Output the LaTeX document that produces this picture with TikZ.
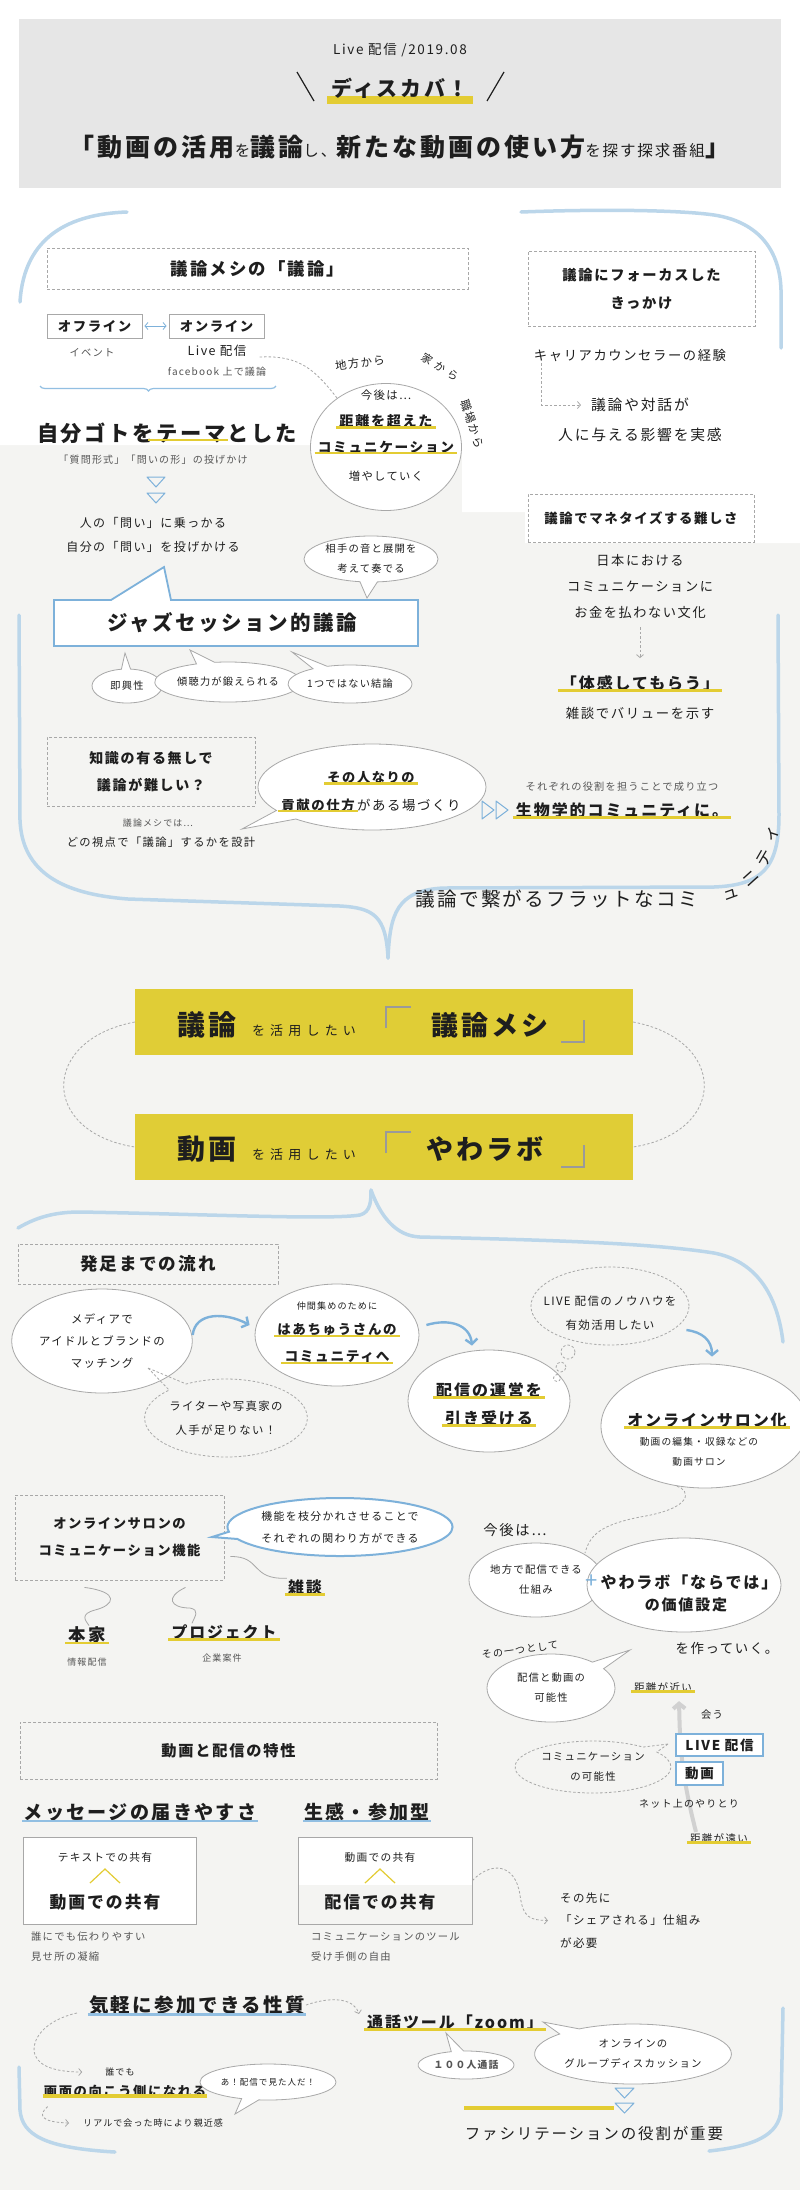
\documentclass[tikz,border=0pt]{standalone}
\usepackage{fontspec}
\setmainfont{Noto Sans CJK JP}[LetterSpace=12]
\usetikzlibrary{arrows.meta,positioning,shapes.geometric,shapes.callouts,decorations.pathreplacing}
\definecolor{pagegray}{HTML}{F4F4F2}
\definecolor{headgray}{HTML}{E6E6E6}
\definecolor{hlyellow}{HTML}{E3CC33}
\definecolor{boxyellow}{HTML}{E0CD36}
\definecolor{paleblue}{HTML}{BBD6EA}
\definecolor{midblue}{HTML}{7DB1DA}
\definecolor{skyline}{HTML}{92BFE2}
\definecolor{linegray}{HTML}{A8A8A8}
\definecolor{cornergray}{HTML}{9A9A9A}
\definecolor{ink}{HTML}{1E1E1E}
\definecolor{subink}{HTML}{555555}
\newcommand{\smtxt}[1]{{\mdseries\fontsize{15.5}{16}\selectfont #1}}
\newcommand{\wide}{\addfontfeature{LetterSpace=40}}
\begin{document}
\begin{tikzpicture}[x=1pt, y=-1pt, >=Latex,
  every node/.style={inner sep=1pt, text=ink, align=center},
  tx/.style 2 args={font=\fontsize{#1}{#2}\selectfont},
  tb/.style 2 args={font=\fontsize{#1}{#2}\selectfont\bfseries},
  sub/.style={text=subink},
  dbox/.style={draw=linegray, line width=0.8pt, dash pattern=on 3pt off 2pt},
  sbox/.style={draw=linegray, fill=white, line width=0.9pt},
  bbox/.style={draw=midblue, fill=white, line width=1.8pt},
  bubble/.style={draw=linegray, fill=white, line width=0.8pt},
  dashline/.style={draw=linegray, line width=0.8pt, dash pattern=on 2.5pt off 2pt},
  dasharrow/.style={dashline, -{Straight Barb[length=3pt,width=7pt]}},
  squig/.style={draw=linegray, line width=0.8pt},
  flow/.style={draw=midblue, line width=2.4pt, -{Straight Barb[length=5pt,width=12pt]}},
  bracket/.style={draw=paleblue, line width=3.5pt, line cap=round},
  tri/.style={draw=midblue, line width=1pt, line join=round},
  hl/.style={draw=hlyellow, line width=2.6pt},
  bl/.style={draw=skyline, line width=2.6pt}]
\useasboundingbox (0,0) rectangle (800,2190);
\fill[pagegray] (0,0) rectangle (800,2190);
\fill[white] (0,0) -- (800,0) -- (800,543) -- (525,543) -- (525,512) -- (462,512) -- (462,445) -- (0,445) -- cycle;
\fill[headgray] (19,19) rectangle (781,188);
\fill[white] (298,1837) rectangle (472,1885);

\node[tx={13.5}{14}] (date) at (400,50) {Live 配信 /2019.08};
\fill[hlyellow] (327,96) rectangle (473,104);
\node[tb={21}{22}] (show) at (400,88) {ディスカバ！};
\draw[ink, line width=1.2pt] (297,72) -- (314,101) (504,72) -- (487,101);
\node[tb={25}{26}] (title) at (400,147) {「動画の活用\smtxt{を}議論\smtxt{し、}新たな動画の使い方\smtxt{を探す探求番組}」};

\draw[bracket] (127,212) .. controls (70,214) and (24,236) .. (20,302);
\draw[bracket] (521,212) .. controls (600,209) and (680,210) .. (714,215) .. controls (760,222) and (780,252) .. (781,290) -- (781,348);
\draw[bracket] (19,615) -- (20,820) .. controls (22,872) and (62,894) .. (128,899) -- (340,906) .. controls (374,908) and (386,916) .. (388,958);
\draw[bracket] (388,958) .. controls (390,915) and (396,890) .. (444,888) -- (714,887) .. controls (762,885) and (779,868) .. (779,815) -- (778,615);

\node[dbox, minimum width=421pt, minimum height=41pt, tb={17.4}{18}] (meshi) at (257.5,268.5) {議論メシの「議論」};
\node[dbox, minimum width=227pt, minimum height=75pt, tb={14.3}{28}] (focus) at (641.5,288.5) {議論にフォーカスした\\きっかけ};
\node[sbox, minimum width=95pt, minimum height=24pt, tb={13.4}{14}] (offline) at (94.5,326) {オフライン};
\node[sbox, minimum width=95pt, minimum height=24pt, tb={13.4}{14}] (online) at (216.5,326) {オンライン};
\draw[midblue, line width=0.8pt, {Straight Barb[length=3pt,width=7pt]}-{Straight Barb[length=3pt,width=7pt]}, shorten <=2pt, shorten >=2pt] (offline) -- (online);
\node[tx={10.3}{11}, sub] (event) at (92,353) {イベント};
\node[tx={12.5}{13}] (live) at (217,351) {Live 配信};
\node[tx={10}{11}, sub] (fb) at (217,372) {facebook 上で議論};
\draw[skyline, line width=1.2pt, decorate, decoration={brace, mirror, amplitude=5pt, aspect=0.46}] (40,386) -- (276,386);

\node[ellipse, bubble, minimum width=151pt, minimum height=127pt, inner sep=0pt] (future) at (386,447) {};
\node[tx={11.4}{12}] (kongo) at (386,395) {今後は…};
\node[tb={14.1}{15}] (kyori) at (386,421) {距離を超えた};
\node[tb={13.7}{14}] (komyu) at (386,447) {コミュニケーション};
\node[tx={11.3}{12}] (fuyasu) at (386,476) {増やしていく};
\node[tx={11.4}{12}, rotate=8] (chiho) at (360,363) {地方から};
\node[tx={11}{11}, inner sep=0pt, rotate=-33] (ie) at (440,367) {\wide 家から};
\node[tx={11.4}{12}, rotate=-72] (shokuba) at (472,424) {職場から};
\draw[dashline] ([xshift=12pt,yshift=-6pt]live.east) .. controls (300,355) and (315,370) .. (future.135);

\node[tb={21.3}{22}] (jibun) at (167,433) {自分ゴトを\textbf{テーマ}とした};
\draw[hl] (148,440) -- (228,440);
\node[tx={10}{11}, sub] (shitsumon) at (153,460) {「質問形式」「問いの形」の投げかけ};
\foreach \y in {482,498} \draw[tri] (147,\y-5) -- (165,\y-5) -- (156,\y+5) -- cycle;
\node[tx={12}{24}] (toi1) at (153,535) {人の「問い」に乗っかる\\自分の「問い」を投げかける};

\node[tx={13.3}{14}] (career) at (630,356) {キャリアカウンセラーの経験};
\node[tx={14.8}{15}] (impacta) at (640,405) {議論や対話が};
\node[tx={14.8}{15}] (impactb) at (640,435) {人に与える影響を実感};
\draw[dasharrow] ([xshift=9pt]career.south west) |- ([xshift=-9pt]impacta.west);
\node[dbox, fill=white, minimum width=226pt, minimum height=48pt, tb={13.4}{14}] (monet) at (641,518) {議論でマネタイズする難しさ};
\node[tx={13.2}{26}] (culture) at (640,586) {日本における\\コミュニケーションに\\お金を払わない文化};
\node[tb={16}{17}] (taikan) at (640,683) {「体感してもらう」};
\draw[dasharrow] ([yshift=-8pt]culture.south) -- ([yshift=16pt]taikan.north);
\node[tx={13.4}{14}] (value) at (640,713) {雑談でバリューを示す};

\node[ellipse callout, bubble, minimum width=134pt, minimum height=46pt, callout absolute pointer={(367,598)}, tx={10.3}{20}] (kanade) at (371,559) {相手の音と展開を\\考えて奏でる};
\draw[bbox, fill=white] (54,600) -- (111,600) -- (164,567) -- (171,600) -- (418,600) -- (418,646) -- (54,646) -- cycle;
\node[tb={20.5}{21}] (jazz) at (232,623) {ジャズセッション的議論};
\node[ellipse callout, bubble, minimum width=70pt, minimum height=34pt, callout absolute pointer={(125,653)}, tx={10.2}{11}] (sokkyo) at (127,686) {即興性};
\node[ellipse callout, bubble, minimum width=138pt, minimum height=40pt, callout absolute pointer={(190,650)}, tx={10.2}{11}] (keicho) at (228,682) {傾聴力が鍛えられる};
\node[ellipse callout, bubble, minimum width=120pt, minimum height=38pt, callout absolute pointer={(292,652)}, tx={10.2}{11}] (ketsuron) at (350,684) {1つではない結論};

\node[dbox, minimum width=208pt, minimum height=69pt, tb={14}{27}] (chishiki) at (151,771.5) {知識の有る無しで\\議論が難しい？};
\node[tx={9}{10}, sub] (meshide) at (158,823) {議論メシでは…};
\node[tx={11.3}{12}] (shiten) at (161,842) {どの視点で「議論」するかを設計};
\node[ellipse callout, bubble, minimum width=228pt, minimum height=86pt, callout absolute pointer={(242,829)}] (koken) at (372,787) {};
\node[tb={13.2}{14}] (sono) at (371,778) {その人なりの};
\node[tb={13.4}{14}] (koken1) at (318,805) {貢献の仕方};
\node[tx={13.4}{14}, anchor=base west] (koken2) at (koken1.base east) {がある場づくり};
\node[tx={10.2}{11}, sub] (yakuwari) at (622,787) {それぞれの役割を担うことで成り立つ};
\foreach \x in {482,496} \draw[tri] (\x,801) -- (\x+12,810) -- (\x,819) -- cycle;
\node[tb={16}{17}] (seibutsu) at (622,810) {生物学的コミュニティに。};
\node[tx={19.6}{20}, anchor=base west] (flat) at (414,906) {議論で繋がるフラットなコミ};
\foreach \c/\x/\y/\r [count=\i] in {ュ/731/895/20, ニ/751/879/42, テ/765/858/60, ィ/773/834/72}
  \node[tx={17}{17}, inner sep=0pt, rotate=\r] (flat\i) at (\x,\y) {\c};

\node[fill=boxyellow, minimum width=498pt, minimum height=66pt] (meshiband) at (384,1022) {};
\node[tb={28}{28}, anchor=base] (giron) at (207,1035) {議論};
\node[tx={13}{14}, anchor=base] (katsuyo1) at (304,1035) {\wide を活用したい};
\draw[cornergray, line width=2pt] (386,1028) -- (386,1007) -- (411,1007) (561,1042) -- (584,1042) -- (584,1020);
\node[tb={27}{28}, anchor=base] (meshiname) at (490,1035) {議論メシ};
\node[fill=boxyellow, minimum width=498pt, minimum height=66pt] (dougaband) at (384,1147) {};
\node[tb={28}{28}, anchor=base] (douga) at (207,1159) {動画};
\node[tx={13}{14}, anchor=base] (katsuyo2) at (304,1159) {\wide を活用したい};
\draw[cornergray, line width=2pt] (386,1153) -- (386,1132) -- (411,1132) (561,1167) -- (584,1167) -- (584,1145);
\node[tb={27}{28}, anchor=base] (yawalab) at (485,1159) {やわラボ};
\draw[dashline] (meshiband.west) .. controls (40,1040) and (40,1132) .. (dougaband.west);
\draw[dashline] (meshiband.east) .. controls (728,1040) and (728,1132) .. (dougaband.east);

\draw[bracket] (18,1228) .. controls (40,1215) and (60,1212) .. (80,1212) .. controls (200,1214) and (330,1220) .. (360,1215) .. controls (371,1212) and (371,1200) .. (371,1190);
\draw[bracket] (371,1190) .. controls (380,1215) and (395,1236) .. (420,1237) .. controls (550,1240) and (650,1243) .. (714,1253) .. controls (760,1262) and (778,1300) .. (783,1342);

\node[dbox, minimum width=260pt, minimum height=40pt, tb={17.6}{18}] (hossoku) at (148,1264) {発足までの流れ};
\node[ellipse, bubble, minimum width=158pt, minimum height=104pt, tx={11.4}{22}] (media) at (102,1341) {メディアで\\アイドルとブランドの\\マッチング};
\node[ellipse callout, dashline, minimum width=156pt, minimum height=78pt, callout absolute pointer={(148,1368)}, tx={11.4}{24}] (writer) at (226,1418) {ライターや写真家の\\人手が足りない！};
\node[ellipse, bubble, minimum width=164pt, minimum height=102pt] (hachu) at (337,1335) {};
\node[tx={9.1}{10}] (nakama) at (337,1306) {仲間集めのために};
\node[tb={13.5}{14}] (hachu1) at (337,1330) {はあちゅうさんの};
\node[tb={13.7}{14}] (hachu2) at (337,1357) {コミュニティへ};
\node[ellipse, bubble, minimum width=162pt, minimum height=102pt] (unei) at (489,1401) {};
\node[tb={16}{17}] (unei1) at (489,1390) {配信の運営を};
\node[tb={16}{17}] (unei2) at (489,1418) {引き受ける};
\node[ellipse, dashline, minimum width=158pt, minimum height=78pt] (knowhow) at (610,1306) {};
\node[tx={11.5}{24}] (knowhowt) at (610,1313) {LIVE 配信のノウハウを\\有効活用したい};
\foreach \x/\y/\r in {568/1352/7, 561/1367/5, 557/1378/3.5} \draw[dashline] (\x,\y) circle[radius=\r pt];
\node[ellipse, bubble, minimum width=208pt, minimum height=124pt] (salon) at (705,1426) {};
\node[tb={16}{17}] (salon1) at (707,1420) {オンラインサロン化};
\node[tx={9.7}{20}] (salon2) at (699,1452) {動画の編集・収録などの\\動画サロン};
\draw[flow] ([yshift=6pt]media.east) .. controls (195,1312) and (225,1312) .. ([xshift=-5pt,yshift=10pt]hachu.west);
\draw[flow] ([xshift=7pt,yshift=10pt]hachu.east) .. controls (450,1318) and (470,1325) .. ([xshift=-17pt,yshift=4pt]unei.north);
\draw[flow] ([xshift=-3pt,yshift=-24pt]knowhow.east) .. controls (702,1332) and (712,1340) .. ([xshift=7pt,yshift=7pt]salon.north);

\node[dbox, minimum width=209pt, minimum height=85pt, tb={13.3}{27}] (kinou) at (119.5,1537.5) {オンラインサロンの\\コミュニケーション機能};
\node[ellipse callout, draw=midblue, fill=white, line width=2pt, minimum width=215pt, minimum height=58pt, callout absolute pointer={(212,1537)}, tx={10.9}{22}] (eda) at (340,1527) {機能を枝分かれさせることで\\それぞれの関わり方ができる};
\node[tb={16}{17}] (zatsu) at (305,1587) {雑談};
\node[tb={17.4}{18}] (honke) at (87,1635) {本家};
\node[tx={9}{10}, sub] (joho) at (87,1662) {情報配信};
\node[tb={15.9}{16}] (project) at (224,1632) {プロジェクト};
\node[tx={9}{10}, sub] (kigyo) at (222,1658) {企業案件};
\draw[squig] ([xshift=6pt,yshift=-19pt]kinou.east) .. controls (262,1556) and (250,1580) .. (zatsu.north west);
\draw[squig] ([xshift=-35pt,yshift=-7pt]kinou.south) .. controls (120,1592) and (115,1605) .. (95,1610) .. controls (80,1614) and (85,1620) .. ([xshift=2pt]honke.north);
\draw[squig] ([xshift=66pt,yshift=-7pt]kinou.south) .. controls (165,1597) and (170,1608) .. (190,1608) .. controls (200,1610) and (195,1616) .. ([xshift=-32pt]project.north);

\coordinate (meet) at (585,1553);
\draw[dashline] (salon.245) .. controls (690,1490) and (695,1508) .. (640,1517) .. controls (600,1525) and (590,1535) .. (meet);
\node[tx={14.3}{15}] (kongo2) at (515,1530) {今後は…};
\node[ellipse, bubble, minimum width=134pt, minimum height=74pt, tx={10.4}{20}] (chiho2) at (536,1580) {地方で配信できる\\仕組み};
\node[ellipse, bubble, minimum width=194pt, minimum height=94pt] (naradewa) at (684,1585) {};
\node[tb={16}{17}] (nara1) at (689,1582) {やわラボ「ならでは」};
\node[tb={15}{16}] (nara2) at (686,1605) {の価値設定};
\node[tx={22}{22}, text=midblue] (plus) at (592,1582) {+};
\node[tx={13.4}{14}] (tsukuru) at (727,1648) {を作っていく。};
\node[tx={10}{11}, rotate=8] (hitotsu) at (520,1650) {その一つとして};
\node[ellipse callout, bubble, minimum width=128pt, minimum height=68pt, callout absolute pointer={(630,1650)}, tx={10.3}{20}] (kanou) at (551,1688) {配信と動画の\\可能性};

\node[tx={10.5}{11}] (chikai) at (663,1687) {距離が近い};
\node[tx={10.5}{11}] (toi) at (719,1838) {距離が遠い};
\draw[draw=black!18, line width=4pt, -{Straight Barb[length=5pt,width=12pt]}] ([xshift=-23pt]toi.north) .. controls (680,1770) and (680,1740) .. ([xshift=16pt,yshift=-8pt]chikai.south);
\node[tx={10.3}{11}] (au) at (712,1715) {会う};
\node[bbox, tb={13.5}{14}, minimum width=87pt, minimum height=22pt] (livebox) at (719.5,1745) {LIVE 配信};
\node[bbox, tb={13.5}{14}, minimum width=47pt, minimum height=23pt] (dougabox) at (699.5,1773.5) {動画};
\node[ellipse callout, dashline, minimum width=156pt, minimum height=52pt, callout absolute pointer={(668,1744)}, tx={10.4}{20}] (kanou2) at (593,1767) {コミュニケーション\\の可能性};
\node[tx={10}{11}] (net) at (689,1804) {ネット上のやりとり};

\node[dbox, minimum width=417pt, minimum height=57pt, tb={15.2}{16}] (tokusei) at (228.5,1750.5) {動画と配信の特性};
\node[tb={19.1}{20}] (message) at (140,1812) {メッセージの届きやすさ};
\node[tb={19}{20}] (namakan) at (367,1812) {生感・参加型};
\node[sbox, minimum width=173pt, minimum height=87pt] (box1) at (109.5,1880.5) {};
\node[draw=linegray, line width=0.9pt, minimum width=174pt, minimum height=87pt] (box2) at (385,1880.5) {};
\node[tx={10.7}{11}] (text1) at (105,1857) {テキストでの共有};
\node[tb={16.8}{17}] (share1) at (105,1902) {動画での共有};
\node[tx={10.7}{11}] (text2) at (380,1857) {動画での共有};
\node[tb={16.8}{17}] (share2) at (380,1902) {配信での共有};
\foreach \x in {105,380} \draw[hlyellow, line width=1.2pt] (\x-15,1883) -- (\x,1869) -- (\x+15,1883);
\node[tx={10.3}{20}, sub, anchor=west, align=left] (easy) at (30,1947) {誰にでも伝わりやすい\\見せ所の凝縮};
\node[tx={10.3}{20}, sub, anchor=west, align=left] (tool) at (310,1947) {コミュニケーションのツール\\受け手側の自由};
\node[tx={11.5}{22.5}, anchor=west, align=left] (saki) at (559,1920.5) {その先に\\「シェアされる」仕組み\\が必要};
\draw[dasharrow] (box2.east) .. controls (490,1862) and (515,1862) .. (520,1895) .. controls (523,1918) and (530,1920) .. ([xshift=-11pt]saki.west);

\node[tb={19.5}{20}] (kigaru) at (197,2005) {気軽に参加できる性質};
\node[tb={16}{17}] (zoomt) at (455,2022) {通話ツール「zoom」};
\draw[dasharrow] (kigaru.east) .. controls (335,1995) and (355,2000) .. ([xshift=-7pt,yshift=8pt]zoomt.west);
\node[tx={9}{10}] (dare) at (120,2072) {誰でも};
\node[tb={13.3}{14}] (gamen) at (125,2091) {画面の向こう側になれる};
\node[tx={9}{10}, anchor=west] (real) at (82,2123) {リアルで会った時により親近感};
\draw[dasharrow] ([xshift=-11pt,yshift=-8pt]kigaru.west) .. controls (45,2020) and (30,2040) .. (35,2055) .. controls (40,2068) and (60,2072) .. ([xshift=-22pt]dare.west);
\draw[dasharrow] ([xshift=5pt,yshift=-8pt]gamen.south west) .. controls (38,2115) and (40,2122) .. ([xshift=-13pt]real.west);
\node[ellipse callout, bubble, minimum width=118pt, minimum height=36pt, callout absolute pointer={(235,2114)}, tx={8.5}{9}] (mita) at (268,2082) {あ！配信で見た人だ！};
\node[ellipse callout, bubble, minimum width=96pt, minimum height=28pt, callout absolute pointer={(446,2033)}, tb={9.8}{10}, sub] (hyaku) at (466,2065) {１００人通話};
\node[ellipse callout, bubble, minimum width=190pt, minimum height=60pt, callout absolute pointer={(543,2022)}, tx={10.4}{20}] (group) at (633,2054) {オンラインの\\グループディスカッション};
\foreach \y in {2093,2108} \draw[tri] (615,\y-5) -- (634,\y-5) -- (624.5,\y+5) -- cycle;
\draw[hlyellow, line width=4pt] (464,2108) -- (614,2108);
\node[tx={15.5}{16}] (facil) at (594,2134) {ファシリテーションの役割が重要};
\draw[bracket] (19,2067) -- (20,2110) .. controls (22,2135) and (45,2148) .. (115,2152);
\draw[bracket] (783,2008) -- (781,2110) .. controls (779,2135) and (755,2146) .. (709,2151);

\foreach \n in {kyori,komyu,taikan,sono,koken1,seibutsu,hachu1,hachu2,unei1,unei2,salon1,zatsu,honke,project,chikai,toi,zoomt}
  \draw[hl] ([xshift=-2pt,yshift=1.5pt]\n.south west) -- ([xshift=2pt,yshift=1.5pt]\n.south east);
\foreach \n in {message,namakan,kigaru}
  \draw[bl] ([yshift=1.5pt]\n.south west) -- ([yshift=1.5pt]\n.south east);
\draw[hlyellow, line width=4.5pt] ([yshift=2.5pt]gamen.south west) -- ([yshift=2.5pt]gamen.south east);
\end{tikzpicture}
\end{document}
